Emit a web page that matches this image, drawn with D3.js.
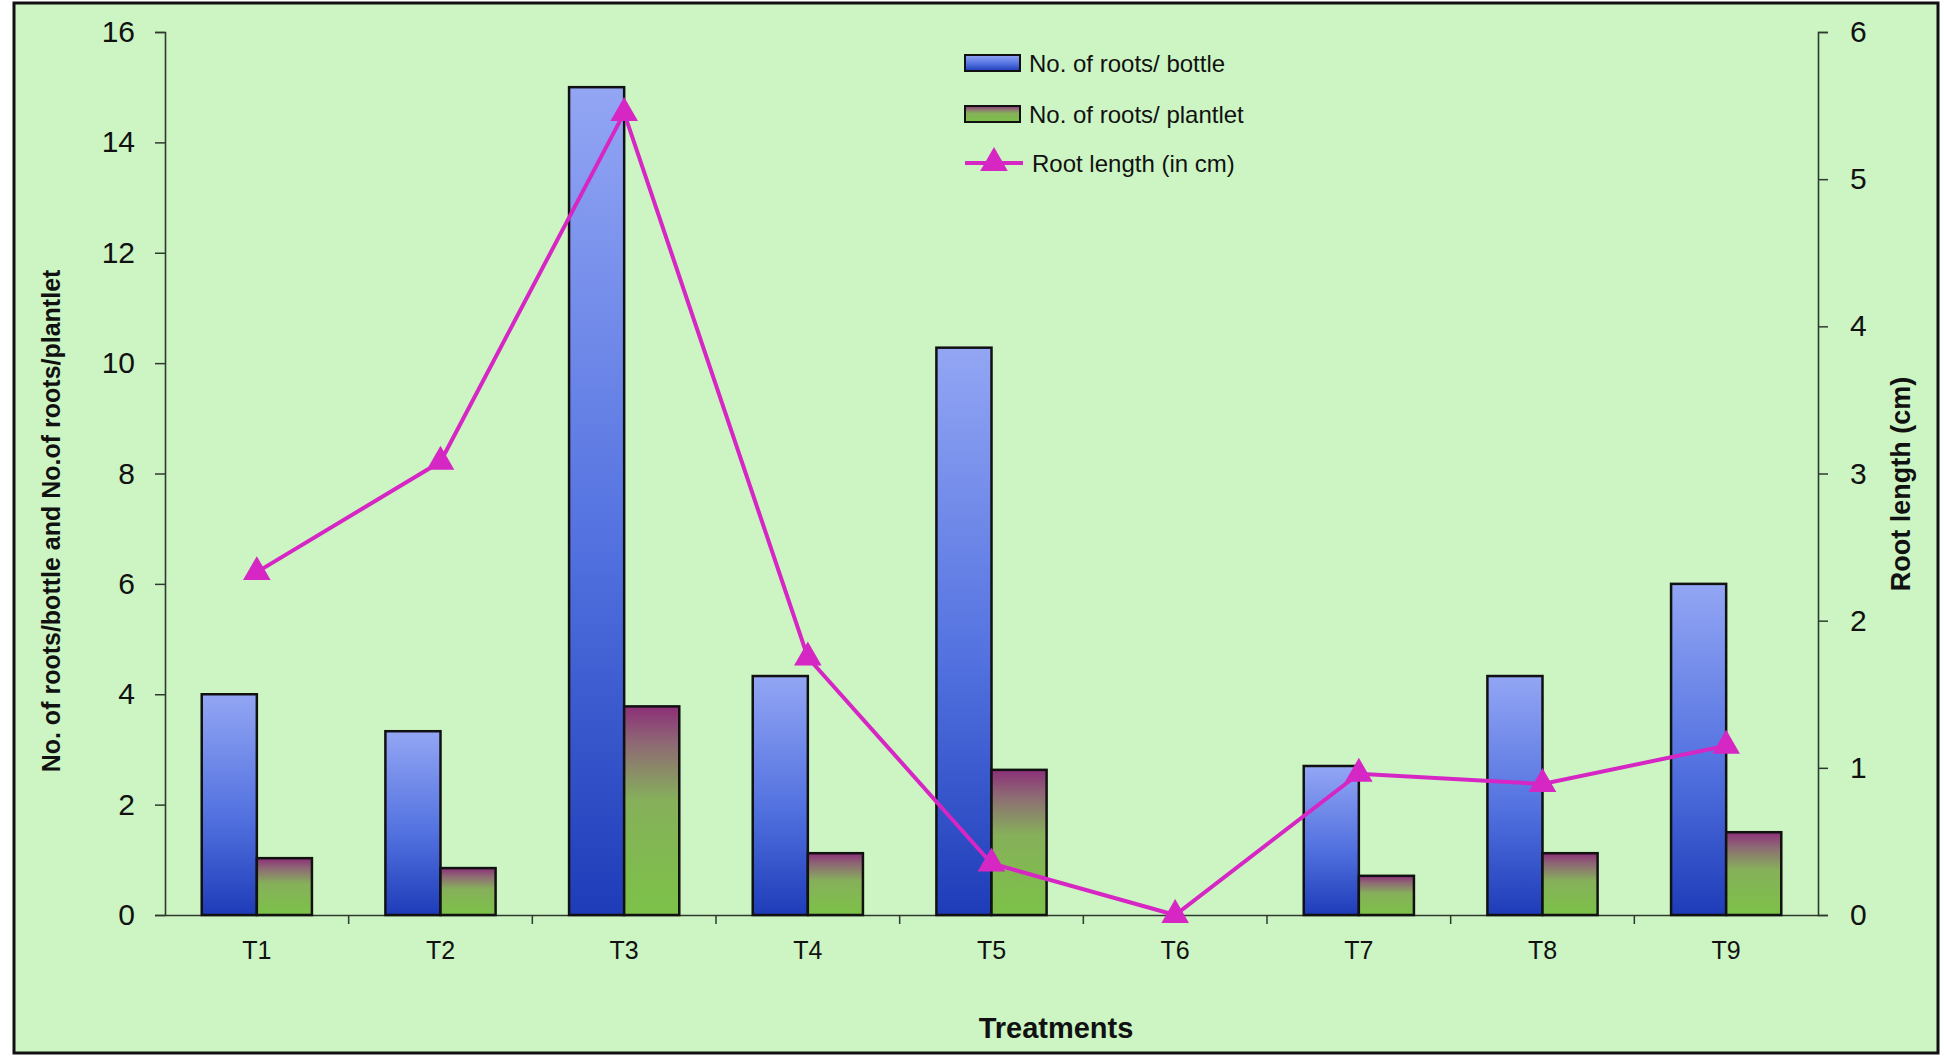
<!DOCTYPE html>
<html>
<head>
<meta charset="utf-8">
<script src="https://cdn.jsdelivr.net/npm/d3@7"></script>
<style>
  body { margin: 0; background: #fff; }
  text { font-family: "Liberation Sans", Arial, sans-serif; }
</style>
</head>
<body>
<div id="chart"></div>
<script>
// Root data per treatment
const treatments = ['T1', 'T2', 'T3', 'T4', 'T5', 'T6', 'T7', 'T8', 'T9'];
const rootsPerBottle = [4.0, 3.33, 15.0, 4.33, 10.28, 0, 2.7, 4.33, 6.0];
const rootsPerPlantlet = [1.03, 0.85, 3.78, 1.12, 2.63, 0, 0.71, 1.12, 1.5];
const rootLength = [2.33, 3.08, 5.45, 1.75, 0.35, 0, 0.96, 0.89, 1.15];
const leftTicks = [0, 2, 4, 6, 8, 10, 12, 14, 16];
const rightTicks = [0, 1, 2, 3, 4, 5, 6];
const legendLabels = ['No. of roots/ bottle', 'No. of roots/ plantlet', 'Root length (in cm)'];

const width = 1944;
const height = 1058;
const plot = { left: 165, right: 1818, top: 32, bottom: 915 };

function drawChart() {
    const svg = d3.select('#chart')
        .append('svg')
        .attr('width', width)
        .attr('height', height);

    const defs = svg.append('defs');

    const blueGrad = defs.append('linearGradient')
        .attr('id', 'blueGrad')
        .attr('x1', 0).attr('y1', 0).attr('x2', 0).attr('y2', 1);
    blueGrad.append('stop').attr('offset', '0%').attr('stop-color', '#93a6f4');
    blueGrad.append('stop').attr('offset', '55%').attr('stop-color', '#5372e0');
    blueGrad.append('stop').attr('offset', '100%').attr('stop-color', '#1e3cb8');

    const greenGrad = defs.append('linearGradient')
        .attr('id', 'greenGrad')
        .attr('x1', 0).attr('y1', 0).attr('x2', 0).attr('y2', 1);
    greenGrad.append('stop').attr('offset', '0%').attr('stop-color', '#8c2f78');
    greenGrad.append('stop').attr('offset', '18%').attr('stop-color', '#8e6a74');
    greenGrad.append('stop').attr('offset', '45%').attr('stop-color', '#86b05a');
    greenGrad.append('stop').attr('offset', '100%').attr('stop-color', '#7cc248');

    // Background panel with frame
    svg.append('rect')
        .attr('x', 14)
        .attr('y', 3)
        .attr('width', 1924)
        .attr('height', 1050)
        .attr('fill', '#ccf5c3')
        .attr('stroke', '#111')
        .attr('stroke-width', 3);

    const x = d3.scaleBand()
        .domain(treatments)
        .range([plot.left, plot.right]);

    const yLeft = d3.scaleLinear()
        .domain([0, 16])
        .range([plot.bottom, plot.top]);

    const yRight = d3.scaleLinear()
        .domain([0, 6])
        .range([plot.bottom, plot.top]);

    const barW = x.bandwidth() * 0.3;

    // Axes
    const leftAxis = svg.append('g')
        .attr('transform', `translate(${plot.left},0)`)
        .call(d3.axisLeft(yLeft).tickValues(leftTicks).tickFormat(d3.format('d')).tickSize(10).tickPadding(20));

    const rightAxis = svg.append('g')
        .attr('transform', `translate(${plot.right},0)`)
        .call(d3.axisRight(yRight).tickValues(rightTicks).tickFormat(d3.format('d')).tickSize(10).tickPadding(22));

    const xAxis = svg.append('g')
        .attr('transform', `translate(0,${plot.bottom})`)
        .call(d3.axisBottom(x).tickSize(0).tickPadding(26));

    // x ticks sit between categories
    xAxis.selectAll('.boundary')
        .data(d3.range(1, treatments.length))
        .enter()
        .append('line')
        .attr('x1', i => x(treatments[i]))
        .attr('x2', i => x(treatments[i]))
        .attr('y1', 0)
        .attr('y2', 9)
        .attr('stroke', '#2e3a2e')
        .attr('stroke-width', 1.5);

    [leftAxis, rightAxis, xAxis].forEach(a => {
        a.select('.domain').attr('stroke', '#2e3a2e').attr('stroke-width', 1.6);
        a.selectAll('.tick line').attr('stroke', '#2e3a2e').attr('stroke-width', 1.5);
        a.selectAll('.tick text')
            .attr('fill', '#111')
            .style('font-family', '"Liberation Sans", Arial, sans-serif');
    });
    leftAxis.selectAll('.tick text').style('font-size', '30px');
    rightAxis.selectAll('.tick text').style('font-size', '30px');
    xAxis.selectAll('.tick text').style('font-size', '25px');

    // Bars
    svg.append('g')
        .selectAll('rect')
        .data(rootsPerBottle)
        .enter()
        .append('rect')
        .attr('x', (d, i) => x(treatments[i]) + x.bandwidth() / 2 - barW)
        .attr('y', d => yLeft(d))
        .attr('width', barW)
        .attr('height', d => plot.bottom - yLeft(d))
        .attr('fill', 'url(#blueGrad)')
        .attr('stroke', d => d > 0 ? '#111' : 'none')
        .attr('stroke-width', 2.5);

    svg.append('g')
        .selectAll('rect')
        .data(rootsPerPlantlet)
        .enter()
        .append('rect')
        .attr('x', (d, i) => x(treatments[i]) + x.bandwidth() / 2)
        .attr('y', d => yLeft(d))
        .attr('width', barW)
        .attr('height', d => plot.bottom - yLeft(d))
        .attr('fill', 'url(#greenGrad)')
        .attr('stroke', d => d > 0 ? '#111' : 'none')
        .attr('stroke-width', 2.5);

    // Root length line
    const line = d3.line()
        .x((d, i) => x(treatments[i]) + x.bandwidth() / 2)
        .y(d => yRight(d));

    svg.append('path')
        .datum(rootLength)
        .attr('d', line)
        .attr('fill', 'none')
        .attr('stroke', '#d626c4')
        .attr('stroke-width', 4);

    const tri = d3.symbol().type(d3.symbolTriangle).size(330);
    svg.append('g')
        .selectAll('path')
        .data(rootLength)
        .enter()
        .append('path')
        .attr('d', tri)
        .attr('transform', (d, i) => `translate(${x(treatments[i]) + x.bandwidth() / 2},${yRight(d)})`)
        .attr('fill', '#d626c4');

    // Axis titles
    svg.append('text')
        .attr('transform', 'translate(60,521) rotate(-90)')
        .attr('text-anchor', 'middle')
        .style('font-family', '"Liberation Sans Narrow", "Liberation Sans", Arial, sans-serif')
        .style('font-stretch', 'condensed')
        .style('font-weight', 'bold')
        .style('font-size', '25px')
        .attr('fill', '#111')
        .text('No. of roots/bottle and No.of roots/plantlet');

    svg.append('text')
        .attr('transform', 'translate(1910,484) rotate(-90)')
        .attr('text-anchor', 'middle')
        .style('font-family', '"Liberation Sans Narrow", "Liberation Sans", Arial, sans-serif')
        .style('font-stretch', 'condensed')
        .style('font-weight', 'bold')
        .style('font-size', '27px')
        .attr('fill', '#111')
        .text('Root length (cm)');

    svg.append('text')
        .attr('x', 1056)
        .attr('y', 1038)
        .attr('text-anchor', 'middle')
        .style('font-weight', 'bold')
        .style('font-size', '29px')
        .attr('fill', '#111')
        .text('Treatments');

    // Legend
    const legend = svg.append('g').attr('transform', 'translate(965,0)');
    const rowY = [63, 114, 163];
    const fills = ['url(#blueGrad)', 'url(#greenGrad)'];

    legendLabels.forEach((label, i) => {
        const row = legend.append('g').attr('transform', `translate(0,${rowY[i]})`);
        if (i < 2) {
            row.append('rect')
                .attr('x', 0)
                .attr('y', -8)
                .attr('width', 55)
                .attr('height', 16)
                .attr('fill', fills[i])
                .attr('stroke', '#111')
                .attr('stroke-width', 2);
        } else {
            row.append('line')
                .attr('x1', 0).attr('x2', 58)
                .attr('y1', 0).attr('y2', 0)
                .attr('stroke', '#d626c4')
                .attr('stroke-width', 4);
            row.append('path')
                .attr('d', tri)
                .attr('transform', 'translate(29,0)')
                .attr('fill', '#d626c4');
        }
        row.append('text')
            .attr('x', i < 2 ? 64 : 67)
            .attr('y', 9)
            .style('font-size', '24px')
            .attr('fill', '#111')
            .text(label);
    });
}

drawChart();
</script>
</body>
</html>
